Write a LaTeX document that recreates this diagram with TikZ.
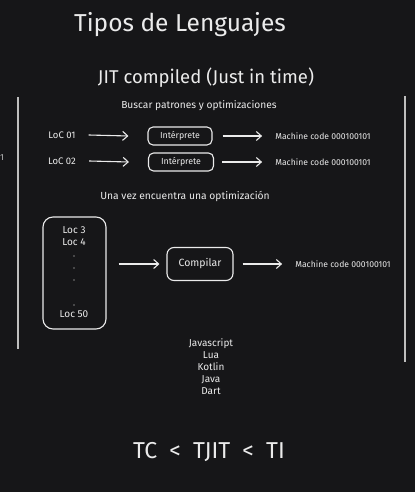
\documentclass[tikz,border=0pt]{standalone}
\usepackage{fontspec}
\setmainfont{Fira Sans}
\usetikzlibrary{arrows.meta}
\definecolor{pizarra}{RGB}{22,22,24}
\definecolor{tiza}{RGB}{235,235,235}
\definecolor{tizagris}{RGB}{190,190,190}
\tikzset{
	caja/.style = {draw=tiza, line width=1.1pt, rounded corners=5pt},
	flecha/.style = {draw=tiza, line width=1.1pt, -{Straight Barb[length=5pt,width=9pt]}},
	texto/.style = {text=tiza, inner sep=1pt, font=\fontsize{8.8}{10}\selectfont},
}
\begin{document}
\begin{tikzpicture}[x=1pt, y=-1pt]
			\fill[pizarra] (0,0) rectangle (415,492);
			\useasboundingbox (0,0) rectangle (415,492);
			% titulos
			\node[text=tiza, font=\fontsize{24.5}{28}\selectfont] (titulo) at (180,25) {Tipos de Lenguajes};
			\node[text=tiza, font=\fontsize{18.5}{21}\selectfont] (jit) at (206,78) {JIT compiled (Just in time)};
			\node[texto, font=\fontsize{10.2}{12}\selectfont] (buscar) at (199,106) {Buscar patrones y optimizaciones};
			% marco
			\coordinate (izqA) at (18,97);
			\coordinate (izqB) at (18,349);
			\coordinate (derA) at (405,96);
			\coordinate (derB) at (405,362);
			\draw[tizagris, line width=1.5pt] (izqA) -- (izqB);
			\draw[tizagris, line width=1.5pt] (derA) -- (derB);
			\node[texto, text=tizagris, anchor=west, inner sep=0pt] (corte) at (0,158) {1};
			% interprete
			\node[texto, font=\fontsize{9.5}{11}\selectfont] (loc1) at (62,135) {LoC 01};
			\node[texto, font=\fontsize{9.5}{11}\selectfont] (loc2) at (62,161) {LoC 02};
			\node[caja, texto, minimum width=64pt, minimum height=18pt] (int1) at (180,136) {Intérprete};
			\node[caja, texto, minimum width=65pt, minimum height=18pt] (int2) at (181,162) {Intérprete};
			\node[texto, font=\fontsize{8.6}{10}\selectfont] (mc1) at (323,136) {Machine code 000100101};
			\node[texto, font=\fontsize{8.6}{10}\selectfont] (mc2) at (323,162) {Machine code 000100101};
			\draw[flecha] ([xshift=12pt]loc1.east) -- ([xshift=-19pt]int1.west);
			\draw[flecha] ([xshift=12pt]loc2.east) -- ([xshift=-19pt]int2.west);
			\draw[flecha] ([xshift=10pt]int1.east) -- ([xshift=-12pt]mc1.west);
			\draw[flecha] ([xshift=8pt]int2.east) -- ([xshift=-12pt]mc2.west);
			% compilador
			\node[texto, font=\fontsize{10.3}{12}\selectfont] (unavez) at (185,196) {Una vez encuentra una optimización};
			\node[caja, minimum width=63pt, minimum height=112pt, rounded corners=10pt] (bloque) at (74.5,273) {};
			\foreach \y/\t in {230/Loc 3, 242/Loc 4, 314/Loc 50}
				\node[texto, font=\fontsize{10}{11}\selectfont] at (74,\y) {\t};
			\foreach \y in {256,268,280,305}
				\fill[tiza] (74,\y) circle (0.7);
			\node[caja, texto, minimum width=66pt, minimum height=33pt, rounded corners=7pt, font=\fontsize{10.5}{12}\selectfont] (comp) at (200,264) {Compilar};
			\node[texto, font=\fontsize{8.6}{10}\selectfont] (mc3) at (343,264) {Machine code 000100101};
			\draw[flecha] ([xshift=12pt]bloque.east |- comp.west) -- ([xshift=-7pt]comp.west);
			\draw[flecha] ([xshift=9pt]comp.east) -- ([xshift=-12pt]mc3.west);
			% lenguajes
			\node[texto, align=center, font=\fontsize{10}{12}\selectfont] (lista) at (211,367) {Javascript\\Lua\\Kotlin\\Java\\Dart};
			\node[text=tiza, font=\fontsize{23}{26}\selectfont] (orden) at (209,452) {TC\ \ <\ \ TJIT\ \ <\ \ TI};
		\end{tikzpicture}
\end{document}
